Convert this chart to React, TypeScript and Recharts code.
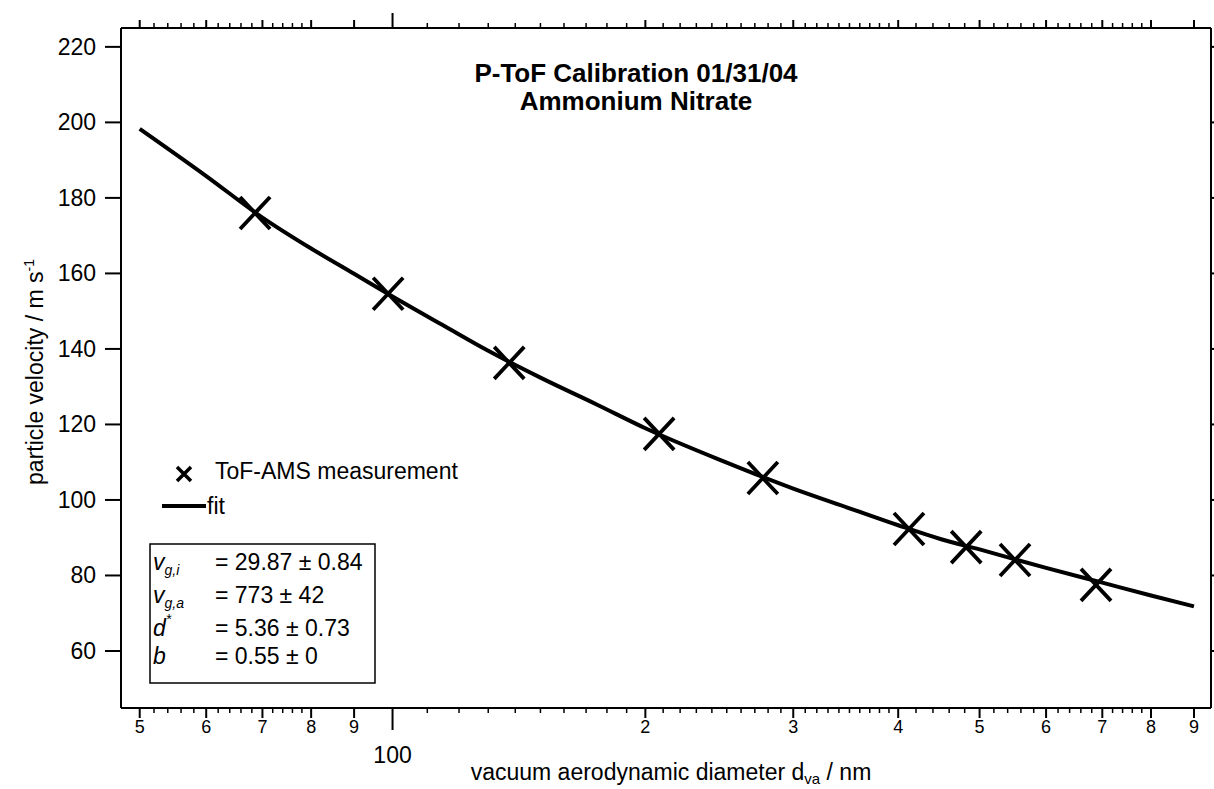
import { ComposedChart, Line, Scatter, XAxis, YAxis } from 'recharts';

const FONT = '"Liberation Sans", Arial, Helvetica, sans-serif';

// ToF-AMS measurements: vacuum aerodynamic diameter (nm) and particle velocity (m/s)
const measDiameter = [68.6, 98.8, 137.7, 207.7, 276, 412, 482, 551, 688];
const measVelocity = [176.0, 154.6, 136.3, 117.5, 105.8, 92.3, 87.5, 84.1, 77.5];

// fit curve
const fitDiameter = [50, 60, 70, 80, 90, 100, 115, 130, 150, 175, 200, 250, 300, 350, 400, 450, 500, 600, 700, 800, 900];
const fitVelocity = [198.3, 185.8, 174.8, 166.6, 159.9, 153.9, 146.2, 139.5, 132.4, 125.3, 119.0, 109.9, 103.0, 97.8, 93.3, 89.6, 86.9, 82.0, 78.1, 74.7, 71.8];

const xMajor = [50, 60, 70, 80, 90, 100, 200, 300, 400, 500, 600, 700, 800, 900];
const xMajorLabels = ['5', '6', '7', '8', '9', '100', '2', '3', '4', '5', '6', '7', '8', '9'];
const xMinor = [
  52, 54, 56, 58, 62, 64, 66, 68, 72, 74, 76, 78,
  110, 120, 130, 140, 150, 160, 170, 180, 190,
  210, 220, 230, 240, 250, 260, 270, 280, 290,
  310, 320, 330, 340, 350, 360, 370, 380, 390,
  420, 440, 460, 480, 520, 540, 560, 580, 620, 640, 660, 680, 720, 740, 760, 780,
];
const yTicks = [60, 80, 100, 120, 140, 160, 180, 200, 220];

const xDomain = [47.5, 943];
const yDomain = [44.9, 225];

const measData = measDiameter.map((d, i) => ({ d, v: measVelocity[i] }));
const fitData = fitDiameter.map((d, i) => ({ d, v: fitVelocity[i] }));
const xTicks = [...xMajor, ...xMinor].sort((a, b) => a - b);

const BottomTick = ({ x, y, payload }: any) => {
  const i = xMajor.indexOf(payload.value);
  if (i < 0) return <line x1={x} x2={x} y1={y} y2={y + 5} stroke="#000" strokeWidth={1.5} />;
  const big = payload.value === 100;
  return (
    <g>
      <line x1={x} x2={x} y1={y} y2={y + (big ? 22 : 10)} stroke="#000" strokeWidth={2} />
      <text x={x} y={big ? y + 55 : y + 25} textAnchor="middle" fontFamily={FONT} fontSize={big ? 23 : 18} fill="#000">
        {xMajorLabels[i]}
      </text>
    </g>
  );
};

const TopTick = ({ x, y, payload }: any) => {
  const major = xMajor.includes(payload.value);
  const len = payload.value === 100 ? 15 : major ? 8 : 5;
  return <line x1={x} x2={x} y1={y} y2={y - len} stroke="#000" strokeWidth={major ? 2 : 1.5} />;
};

const LeftTick = ({ x, y, payload }: any) => (
  <g>
    <line x1={x - 16} x2={x} y1={y} y2={y} stroke="#000" strokeWidth={2} />
    <text x={x - 25} y={y + 8} textAnchor="end" fontFamily={FONT} fontSize={23} fill="#000">
      {payload.value}
    </text>
  </g>
);

const RightTick = ({ x, y }: any) => <line x1={x} x2={x + 3} y1={y} y2={y} stroke="#000" strokeWidth={2} />;

const XMark = ({ cx, cy }: any) => (
  <path d={`M${cx - 15},${cy - 16}L${cx + 15},${cy + 16}M${cx - 15},${cy + 16}L${cx + 15},${cy - 16}`} stroke="#000" strokeWidth={3.8} fill="none" />
);

const params = [
  { sym: 'v', sub: 'g,i', sup: '', val: '= 29.87 ± 0.84' },
  { sym: 'v', sub: 'g,a', sup: '', val: '= 773 ± 42' },
  { sym: 'd', sub: '', sup: '*', val: '= 5.36 ± 0.73' },
  { sym: 'b', sub: '', sup: '', val: '= 0.55 ± 0' },
];
const paramY = [570, 603, 636, 664];

export default function App() {
  return (
    <div style={{ position: 'absolute', left: 0, top: 0, width: 1214, height: 789, background: '#fff' }}>
      <ComposedChart width={1214} height={789} margin={{ top: 0, right: 0, bottom: 0, left: 0 }}>
        <XAxis
          xAxisId="bottom"
          dataKey="d"
          type="number"
          scale="log"
          domain={xDomain}
          allowDataOverflow
          ticks={xTicks}
          interval={0}
          height={81}
          tickSize={0}
          tickMargin={0}
          tickLine={false}
          axisLine={{ stroke: '#000', strokeWidth: 2 }}
          tick={<BottomTick />}
        />
        <XAxis
          xAxisId="top"
          orientation="top"
          dataKey="d"
          type="number"
          scale="log"
          domain={xDomain}
          allowDataOverflow
          ticks={xTicks}
          interval={0}
          height={28}
          tickSize={0}
          tickMargin={0}
          tickLine={false}
          axisLine={{ stroke: '#000', strokeWidth: 2 }}
          tick={<TopTick />}
        />
        <YAxis
          yAxisId="left"
          type="number"
          domain={yDomain}
          allowDataOverflow
          ticks={yTicks}
          interval={0}
          width={121}
          tickSize={0}
          tickMargin={0}
          tickLine={false}
          axisLine={{ stroke: '#000', strokeWidth: 2 }}
          tick={<LeftTick />}
        />
        <YAxis
          yAxisId="right"
          orientation="right"
          type="number"
          domain={yDomain}
          allowDataOverflow
          ticks={yTicks}
          interval={0}
          width={3}
          tickSize={0}
          tickMargin={0}
          tickLine={false}
          axisLine={{ stroke: '#000', strokeWidth: 2 }}
          tick={<RightTick />}
        />
        <Line
          xAxisId="bottom"
          yAxisId="left"
          data={fitData}
          dataKey="v"
          type="monotone"
          stroke="#000"
          strokeWidth={4}
          dot={false}
          isAnimationActive={false}
        />
        <Scatter xAxisId="bottom" yAxisId="left" data={measData} dataKey="v" shape={<XMark />} isAnimationActive={false} />
      </ComposedChart>

      <svg width={1214} height={789} style={{ position: 'absolute', left: 0, top: 0, pointerEvents: 'none' }} fontFamily={FONT} fill="#000">
        <text x={636} y={82} textAnchor="middle" fontSize={26} fontWeight="bold">P-ToF Calibration 01/31/04</text>
        <text x={636} y={110} textAnchor="middle" fontSize={26} fontWeight="bold">Ammonium Nitrate</text>

        <text transform="rotate(-90)" x={-372} y={43} textAnchor="middle" fontSize={23}>
          particle velocity / m s<tspan dy={-9} fontSize={14}>-1</tspan>
        </text>
        <text x={671} y={780} textAnchor="middle" fontSize={23}>
          vacuum aerodynamic diameter d<tspan dy={4} fontSize={15}>va</tspan>
          <tspan dy={-4}> / nm</tspan>
        </text>

        {/* legend */}
        <path d="M177,467L191,481M177,481L191,467" stroke="#000" strokeWidth={3.5} />
        <text x={215} y={479} fontSize={23}>ToF-AMS measurement</text>
        <line x1={162} x2={206} y1={506} y2={506} stroke="#000" strokeWidth={4} />
        <text x={207} y={514} fontSize={23}>fit</text>

        {/* fit parameters */}
        <rect x={150} y={544} width={225} height={139} fill="none" stroke="#000" strokeWidth={1.5} />
        {params.map((p, i) => (
          <g key={i}>
            <text x={153} y={paramY[i]} fontSize={23} fontStyle="italic">
              {p.sym}
              {p.sub && <tspan dy={5} fontSize={14}>{p.sub}</tspan>}
              {p.sup && <tspan dy={-12} fontSize={14}>{p.sup}</tspan>}
            </text>
            <text x={215} y={paramY[i]} fontSize={23}>{p.val}</text>
          </g>
        ))}
      </svg>
    </div>
  );
}
